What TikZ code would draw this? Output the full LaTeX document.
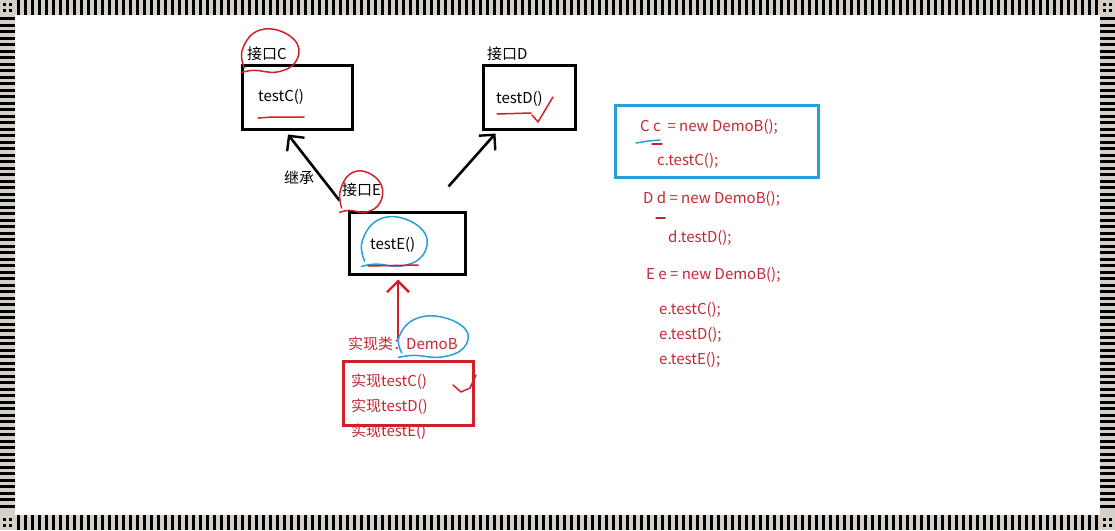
\documentclass[tikz,border=0pt]{standalone}
\usepackage{fontspec}
\setmainfont{Noto Sans CJK SC}
\usetikzlibrary{arrows.meta}

\definecolor{stripegray}{RGB}{212,208,200}
\definecolor{inkred}{RGB}{208,32,42}
\definecolor{textred}{RGB}{196,40,52}
\definecolor{inkblue}{RGB}{40,160,214}

\newcommand{\handring}[5]{%
  \begin{scope}[shift={(#2,#3)}, xscale=#4, yscale=#5]
 \draw [#1] plot [smooth, tension=0.7] coordinates {(-0.92,0.8) (-1,0) (-0.55,-0.88) (0.25,-1) (0.97,-0.35) (0.9,0.55) (0.25,1) (-0.55,0.92) (-1.02,1.02)};
\end{scope}}

\begin{document}
\begin{tikzpicture}[x=1pt, y=-1pt, every node/.style={inner sep=0pt, font=\fontsize{15}{17}\selectfont},
  box/.style={draw=black, line width=3pt},
  redbox/.style={draw=inkred, line width=3pt},
  bluebox/.style={draw=inkblue, line width=3pt},
  inh/.style={line width=2.6pt, -{Straight Barb[length=11pt, width=22pt, line width=2.4pt]}},
  redtxt/.style={text=textred, anchor=west},
  pen/.style={line width=1.5pt, line cap=round, line join=round}]
\useasboundingbox (0,0) rectangle (1115,530);

% striped frame
\fill[stripegray] (0,0) rectangle (1115,530);
\fill[white] (15,15) rectangle (1100,515);
\foreach \x in {17,24,...,1096} {
  \fill[black] (\x,0) rectangle +(3,15);
  \fill[black] (\x,515) rectangle +(3,15);
}
\foreach \y in {17,23.5,...,510} {
  \fill[black] (0,\y) rectangle +(15,3);
  \fill[black] (1100,\y) rectangle +(15,3);
}
\foreach \cx/\cy in {0/0, 1100/0, 0/515, 1100/515} {
  \fill[black] (\cx+3,\cy+3) rectangle +(3,3);
  \fill[black] (\cx+9,\cy+3) rectangle +(3,3);
  \fill[black] (\cx+3,\cy+9) rectangle +(3,3);
  \fill[black] (\cx+9,\cy+9) rectangle +(3,3);
}

% interfaces
\node[box, minimum width=110pt, minimum height=64pt] (boxC) at (297,97) {};
\node[box, minimum width=92pt, minimum height=64pt] (boxD) at (529,97) {};
\node[box, minimum width=116pt, minimum height=62pt] (boxE) at (407,243) {};
\node[anchor=west] (nameC) at (247,54) {接口C};
\node[anchor=west] (nameD) at (487,54) {接口D};
\node[anchor=west] (nameE) at (342,190) {接口E};
\node[anchor=west] (testC) at (258,97) {testC()};
\node[anchor=west] (testD) at (496,99) {testD()};
\node[anchor=west] (testE) at (370,245) {testE()};
\node (extends) at (299,178) {继承};

\draw[inh] ([shift={(-8,-10)}]boxE.north west) -- ([shift={(-9,4)}]boxC.south);
\draw[inh] ([shift={(-18,-24)}]boxE.north east) -- ([shift={(14,3)}]boxD.south west);

% implementing class
\node[redbox, minimum width=130pt, minimum height=64pt] (boxB) at (408,393) {};
\node[redtxt] (impl) at (348,344) {实现类：};
\node[redtxt] (demoB) at (406,344) {DemoB};
\node[redtxt] (implC) at (351,382) {实现testC()};
\node[redtxt] (implD) at (351,407) {实现testD()};
\node[redtxt] (implE) at (351,432) {实现testE()};
\draw[inh, draw=inkred, line width=2.4pt] ([shift={(-8,1)}]demoB.north west) -- ([shift={(-9,4)}]boxE.south);

% usage
\node[bluebox, minimum width=203pt, minimum height=72pt] (boxUse) at (716.5,141) {};
\node[redtxt] (useC) at (640,127) {C c\ \ = new DemoB();};
\node[redtxt] (callC) at (657,161) {c.testC();};
\node[redtxt] (useD) at (643,199) {D d = new DemoB();};
\node[redtxt] (callD) at (668,238) {d.testD();};
\node[redtxt] (useE) at (646,275) {E e = new DemoB();};
\node[redtxt] (callEC) at (659,310) {e.testC();};
\node[redtxt] (callED) at (659,335) {e.testD();};
\node[redtxt] (callEE) at (659,360) {e.testE();};

% marks
\handring{pen, draw=inkred}{270}{51}{28}{21}
\handring{pen, draw=inkred}{361}{192}{21}{20}
\handring{pen, draw=inkblue}{394}{242}{32}{24}
\handring{pen, draw=inkblue}{433}{337}{34}{20}
\draw[pen, draw=inkred] (258,118) -- (272,117) -- (304,117);
\draw[pen, draw=inkred] (497,114) -- (531,113);
\draw[pen, draw=inkred] (368,266) -- (418,265);
\draw[pen, draw=inkred] (532,115) -- (538,122) -- (553,97);
\draw[pen, draw=inkred] (453,385) -- (461,392) -- (470,388) -- (476,375);
\draw[pen, draw=inkblue] (636,143) -- (648,141) -- (660,140);
\draw[pen, draw=inkred] (652,144) -- (662,144);
\draw[pen, draw=inkred] (656,218) -- (665,218);

\end{tikzpicture}
\end{document}
